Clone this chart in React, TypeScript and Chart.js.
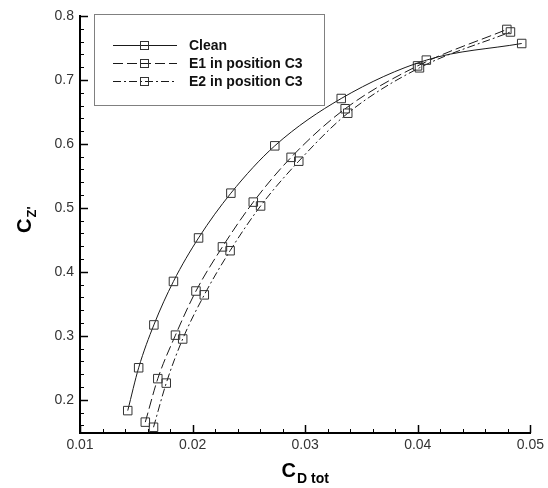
import React, { useEffect, useRef } from "react";
import { Chart, registerables } from "chart.js";

Chart.register(...registerables);

// ---- data ----
const seriesNames = ["Clean", "E1 in position C3", "E2 in position C3"];

const cleanCD = [0.01424, 0.01521, 0.01656, 0.0183, 0.02053, 0.0234, 0.0273, 0.0332, 0.04076, 0.04923];
const cleanCZ = [0.183, 0.25, 0.317, 0.385, 0.453, 0.523, 0.597, 0.671, 0.731, 0.757];

const e1CD = [0.0158, 0.01691, 0.01848, 0.0203, 0.02265, 0.02539, 0.02875, 0.03355, 0.03998, 0.04791];
const e1CZ = [0.165, 0.233, 0.301, 0.37, 0.439, 0.509, 0.579, 0.655, 0.722, 0.779];

const e2CD = [0.01653, 0.01766, 0.01912, 0.02104, 0.02333, 0.02604, 0.02943, 0.03378, 0.04015, 0.04823];
const e2CZ = [0.157, 0.226, 0.295, 0.364, 0.433, 0.503, 0.573, 0.648, 0.719, 0.775];

const xTicks = [0.01, 0.02, 0.03, 0.04, 0.05];
const xTickLabels = ["0.01", "0.02", "0.03", "0.04", "0.05"];
const yTicks = [0.2, 0.3, 0.4, 0.5, 0.6, 0.7, 0.8];
const yTickLabels = ["0.2", "0.3", "0.4", "0.5", "0.6", "0.7", "0.8"];

const X_MIN = 0.01;
const X_MAX = 0.05;
const Y_MIN = 0.148;
const Y_MAX = 0.8;

const FONT = '"Liberation Sans", Arial, Helvetica, sans-serif';
const LINE_COLOR = "#1a1a1a";
const MARKER_COLOR = "#333";
const dashes: number[][] = [[], [10, 4], [8, 3, 2, 3]];

const toPoints = (xs: number[], ys: number[]) => xs.map((x, i) => ({ x, y: ys[i] }));

const lookup = (ticks: number[], labels: string[], v: number) => {
  const i = ticks.findIndex((t) => Math.abs(t - v) < 1e-9);
  return i >= 0 ? labels[i] : "";
};

const decorPlugin = {
  id: "decor",
  afterDraw(chart: any) {
    const ctx: CanvasRenderingContext2D = chart.ctx;
    const xs = chart.scales.x;
    const ys = chart.scales.y;
    const { left, bottom } = chart.chartArea;

    ctx.save();
    ctx.strokeStyle = "#000";
    ctx.setLineDash([]);

    const seg = (x1: number, y1: number, x2: number, y2: number, w: number) => {
      ctx.lineWidth = w;
      ctx.beginPath();
      ctx.moveTo(x1, y1);
      ctx.lineTo(x2, y2);
      ctx.stroke();
    };

    // x ticks (inward)
    xTicks.forEach((v) => {
      const px = Math.round(xs.getPixelForValue(v)) + 0.5;
      seg(px, bottom, px, bottom - 8, 1.5);
    });
    for (let i = 0; i < xTicks.length - 1; i++) {
      const a = xTicks[i];
      const b = xTicks[i + 1];
      for (let k = 1; k < 5; k++) {
        const px = Math.round(xs.getPixelForValue(a + ((b - a) * k) / 5)) + 0.5;
        seg(px, bottom, px, bottom - 4, 1);
      }
    }

    // y ticks (inward)
    yTicks.forEach((v) => {
      const py = Math.round(ys.getPixelForValue(v)) + 0.5;
      seg(left, py, left + 8, py, 1.5);
    });
    for (let i = 0; i < yTicks.length - 1; i++) {
      const a = yTicks[i];
      const b = yTicks[i + 1];
      for (let k = 1; k < 5; k++) {
        const py = Math.round(ys.getPixelForValue(a + ((b - a) * k) / 5)) + 0.5;
        seg(left, py, left + 4, py, 1);
      }
    }
    const step = (yTicks[1] - yTicks[0]) / 5;
    for (let v = yTicks[0] - step; v >= Y_MIN - 1e-9; v -= step) {
      const py = Math.round(ys.getPixelForValue(v)) + 0.5;
      seg(left, py, left + 4, py, 1);
    }

    // axis titles
    ctx.fillStyle = "#000";
    ctx.textAlign = "left";
    ctx.textBaseline = "alphabetic";
    // x title: C_{D tot}
    ctx.font = `bold 20px ${FONT}`;
    const cW = ctx.measureText("C").width;
    ctx.font = `bold 14px ${FONT}`;
    const subW = ctx.measureText("D tot").width;
    const cx = (chart.chartArea.left + chart.chartArea.right) / 2;
    const startX = cx - (cW + 1 + subW) / 2;
    ctx.font = `bold 20px ${FONT}`;
    ctx.fillText("C", startX, 477);
    ctx.font = `bold 14px ${FONT}`;
    ctx.fillText("D tot", startX + cW + 1, 483);

    // y title: C_{Z'} rotated
    ctx.save();
    ctx.translate(31, 233);
    ctx.rotate(-Math.PI / 2);
    ctx.font = `bold 20px ${FONT}`;
    ctx.fillText("C", 0, 0);
    ctx.font = `bold 13px ${FONT}`;
    ctx.fillText("Z'", cW + 1, 5);
    ctx.restore();

    // legend
    const bx = 94.5;
    const by = 14.5;
    const bw = 230;
    const bh = 91;
    ctx.fillStyle = "#fff";
    ctx.fillRect(bx, by, bw, bh);
    ctx.strokeStyle = "#808080";
    ctx.lineWidth = 1;
    ctx.strokeRect(bx, by, bw, bh);

    seriesNames.forEach((name, i) => {
      const y = Math.round(45 + i * 18) + 0.5;
      ctx.strokeStyle = LINE_COLOR;
      ctx.lineWidth = 1;
      ctx.setLineDash(dashes[i]);
      ctx.beginPath();
      ctx.moveTo(113, y);
      ctx.lineTo(177, y);
      ctx.stroke();
      ctx.setLineDash([]);
      ctx.strokeStyle = MARKER_COLOR;
      ctx.strokeRect(140.5, y - 4, 8, 8);
      ctx.fillStyle = "#111";
      ctx.font = `bold 14px ${FONT}`;
      ctx.textBaseline = "middle";
      ctx.fillText(name, 189, y + 0.5);
    });

    ctx.restore();
  },
};

export default function App() {
  const ref = useRef<HTMLCanvasElement>(null);

  useEffect(() => {
    const canvas = ref.current;
    if (!canvas) return;
    const mk = (i: number, xs: number[], ys: number[]) => ({
      label: seriesNames[i],
      data: toPoints(xs, ys),
      showLine: true,
      borderColor: LINE_COLOR,
      borderWidth: 1,
      borderDash: dashes[i],
      cubicInterpolationMode: "monotone" as const,
      pointStyle: "rect" as const,
      pointRadius: 6,
      pointBorderWidth: 1,
      pointBorderColor: MARKER_COLOR,
      pointBackgroundColor: "rgba(0,0,0,0)",
    });

    const chart = new Chart(canvas, {
      type: "scatter",
      data: {
        datasets: [mk(0, cleanCD, cleanCZ), mk(1, e1CD, e1CZ), mk(2, e2CD, e2CZ)],
      },
      options: {
        responsive: false,
        animation: false,
        devicePixelRatio: 1,
        layout: { padding: { top: 16, right: 15, left: 0, bottom: 0 } },
        plugins: {
          legend: { display: false },
          tooltip: { enabled: false },
          title: { display: false },
        },
        scales: {
          x: {
            type: "linear",
            min: X_MIN,
            max: X_MAX,
            afterBuildTicks: (s: any) => {
              s.ticks = xTicks.map((v) => ({ value: v }));
            },
            afterFit: (s: any) => {
              s.height = 55;
            },
            grid: { display: false, drawTicks: false },
            border: { display: true, color: "#000", width: 2 },
            ticks: {
              font: { family: FONT, size: 14 },
              color: "#333",
              padding: 4,
              maxRotation: 0,
              autoSkip: false,
              callback: (v: any) => lookup(xTicks, xTickLabels, Number(v)),
            },
          },
          y: {
            type: "linear",
            min: Y_MIN,
            max: Y_MAX,
            afterBuildTicks: (s: any) => {
              s.ticks = yTicks.map((v) => ({ value: v }));
            },
            afterFit: (s: any) => {
              s.width = 80;
            },
            grid: { display: false, drawTicks: false },
            border: { display: true, color: "#000", width: 2 },
            ticks: {
              font: { family: FONT, size: 14 },
              color: "#333",
              padding: 6,
              autoSkip: false,
              callback: (v: any) => lookup(yTicks, yTickLabels, Number(v)),
            },
          },
        },
      },
      plugins: [decorPlugin],
    });
    return () => chart.destroy();
  }, []);

  return (
    <div style={{ position: "absolute", left: 0, top: 0, width: 548, height: 488, background: "#fff" }}>
      <canvas ref={ref} width={548} height={488} style={{ display: "block", width: 548, height: 488 }} />
    </div>
  );
}
